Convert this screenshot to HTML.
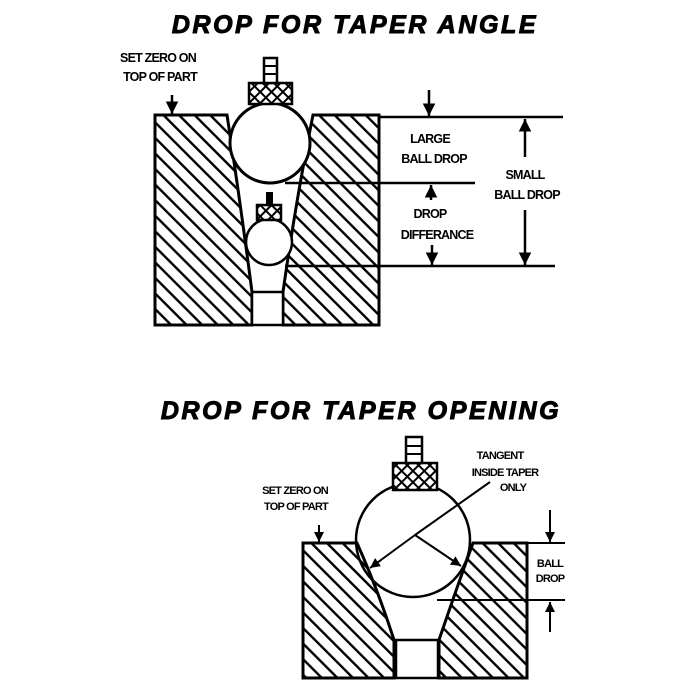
<!DOCTYPE html>
<html><head><style>body{margin:0;background:#fff}svg{display:block}</style></head><body>
<svg width="693" height="693" viewBox="0 0 693 693" xmlns="http://www.w3.org/2000/svg" font-family="Liberation Sans, sans-serif">
<defs>
<pattern id="h" patternUnits="userSpaceOnUse" width="11" height="11" patternTransform="rotate(-45)">
<rect width="11" height="11" fill="#fff"/><rect x="0" y="0" width="2.4" height="11" fill="#000"/>
</pattern>
<pattern id="x" patternUnits="userSpaceOnUse" width="8" height="8" patternTransform="rotate(45)">
<rect width="8" height="8" fill="#fff"/><rect width="2" height="8" fill="#000"/><rect width="8" height="2" fill="#000"/>
</pattern>
<marker id="a" viewBox="0 0 10 10" refX="10" refY="5" markerWidth="5" markerHeight="5" orient="auto-start-reverse"><path d="M0,0L10,5L0,10z" fill="#000"/></marker>
</defs>
<g font-weight="bold" font-style="italic" font-size="25" text-anchor="middle" stroke="#000" stroke-width="1">
<text x="355" y="33" letter-spacing="2.6">DROP FOR TAPER ANGLE</text>
<text x="361" y="419" letter-spacing="2.6">DROP FOR TAPER OPENING</text>
</g>
<g stroke="#000" stroke-width="3" fill="url(#h)">
<path d="M155,115 L227,115 Q240,200 252,292 L252,325 L155,325 Z"/>
<path d="M313,115 L379,115 L379,325 L283,325 L283,292 Q296,200 313,115 Z"/>
</g>
<rect x="252" y="292" width="31" height="33" fill="#fff" stroke="#000" stroke-width="2.5"/>
<g stroke="#000" stroke-width="2.5">
<line x1="379" y1="117" x2="563" y2="117"/>
<line x1="285" y1="183" x2="475" y2="183"/>
<line x1="285" y1="266" x2="555" y2="266"/>
</g>
<circle cx="270" cy="143" r="40" fill="#fff" stroke="#000" stroke-width="3"/>
<rect x="249" y="83" width="43" height="21" fill="url(#x)" stroke="#000" stroke-width="2.5"/>
<rect x="264" y="58" width="13" height="25" fill="#fff" stroke="#000" stroke-width="2.5"/>
<line x1="264" y1="66" x2="277" y2="66" stroke="#000" stroke-width="2"/><line x1="264" y1="74" x2="277" y2="74" stroke="#000" stroke-width="2"/>
<circle cx="269" cy="242" r="23" fill="#fff" stroke="#000" stroke-width="2.5"/>
<rect x="257" y="205" width="24" height="15" fill="url(#x)" stroke="#000" stroke-width="2.5"/>
<rect x="266" y="192" width="7" height="13" fill="#000"/>
<g stroke="#000" stroke-width="2.5" marker-end="url(#a)">
<line x1="429" y1="90" x2="429" y2="116"/>
<line x1="431" y1="200" x2="431" y2="185"/>
<line x1="432" y1="245" x2="432" y2="265"/>
<line x1="525" y1="157" x2="525" y2="119"/>
<line x1="525" y1="210" x2="525" y2="265"/>
<line x1="172" y1="95" x2="172" y2="114"/>
</g>
<g font-size="12.5" font-weight="bold" text-anchor="middle" letter-spacing="-0.8">
<text x="430" y="143">LARGE</text>
<text x="434" y="163">BALL DROP</text>
<text x="525" y="179">SMALL</text>
<text x="527" y="199">BALL DROP</text>
<text x="430" y="218">DROP</text>
<text x="437" y="239">DIFFERANCE</text>
<text x="158" y="62">SET ZERO ON</text>
<text x="160" y="81">TOP OF PART</text>
</g>
<g stroke="#000" stroke-width="3" fill="url(#h)">
<path d="M303,543 L357,543 Q378,590 394,640 L394,678 L303,678 Z"/>
<path d="M473,543 L527,543 L527,678 L439,678 L439,640 Q456,590 473,543 Z"/>
</g>
<rect x="396" y="640" width="42" height="38" fill="#fff" stroke="#000" stroke-width="2.5"/>
<circle cx="413" cy="540" r="57" fill="none" stroke="#000" stroke-width="2.5"/>
<rect x="393" y="463" width="44" height="27" fill="url(#x)" stroke="#000" stroke-width="2.5"/>
<rect x="406" y="437" width="16" height="26" fill="#fff" stroke="#000" stroke-width="2.5"/>
<line x1="406" y1="446" x2="422" y2="446" stroke="#000" stroke-width="2"/><line x1="406" y1="454" x2="422" y2="454" stroke="#000" stroke-width="2"/>
<g stroke="#000" stroke-width="2">
<line x1="527" y1="543" x2="565" y2="543"/>
<line x1="437" y1="600" x2="565" y2="600"/>
<line x1="415" y1="535" x2="490" y2="482"/>
</g>
<g stroke="#000" stroke-width="2" marker-end="url(#a)">
<line x1="415" y1="535" x2="370" y2="568"/>
<line x1="415" y1="535" x2="461" y2="566"/>
<line x1="550" y1="510" x2="550" y2="542"/>
<line x1="550" y1="632" x2="550" y2="602"/>
<line x1="319" y1="525" x2="319" y2="542"/>
</g>
<g font-size="11" font-weight="bold" text-anchor="middle" letter-spacing="-0.8">
<text x="500" y="459">TANGENT</text>
<text x="505" y="476">INSIDE TAPER</text>
<text x="513" y="491">ONLY</text>
<text x="295" y="494">SET ZERO ON</text>
<text x="296" y="510">TOP OF PART</text>
<text x="550" y="567">BALL</text>
<text x="550" y="582">DROP</text>
</g>
</svg>
</body></html>
